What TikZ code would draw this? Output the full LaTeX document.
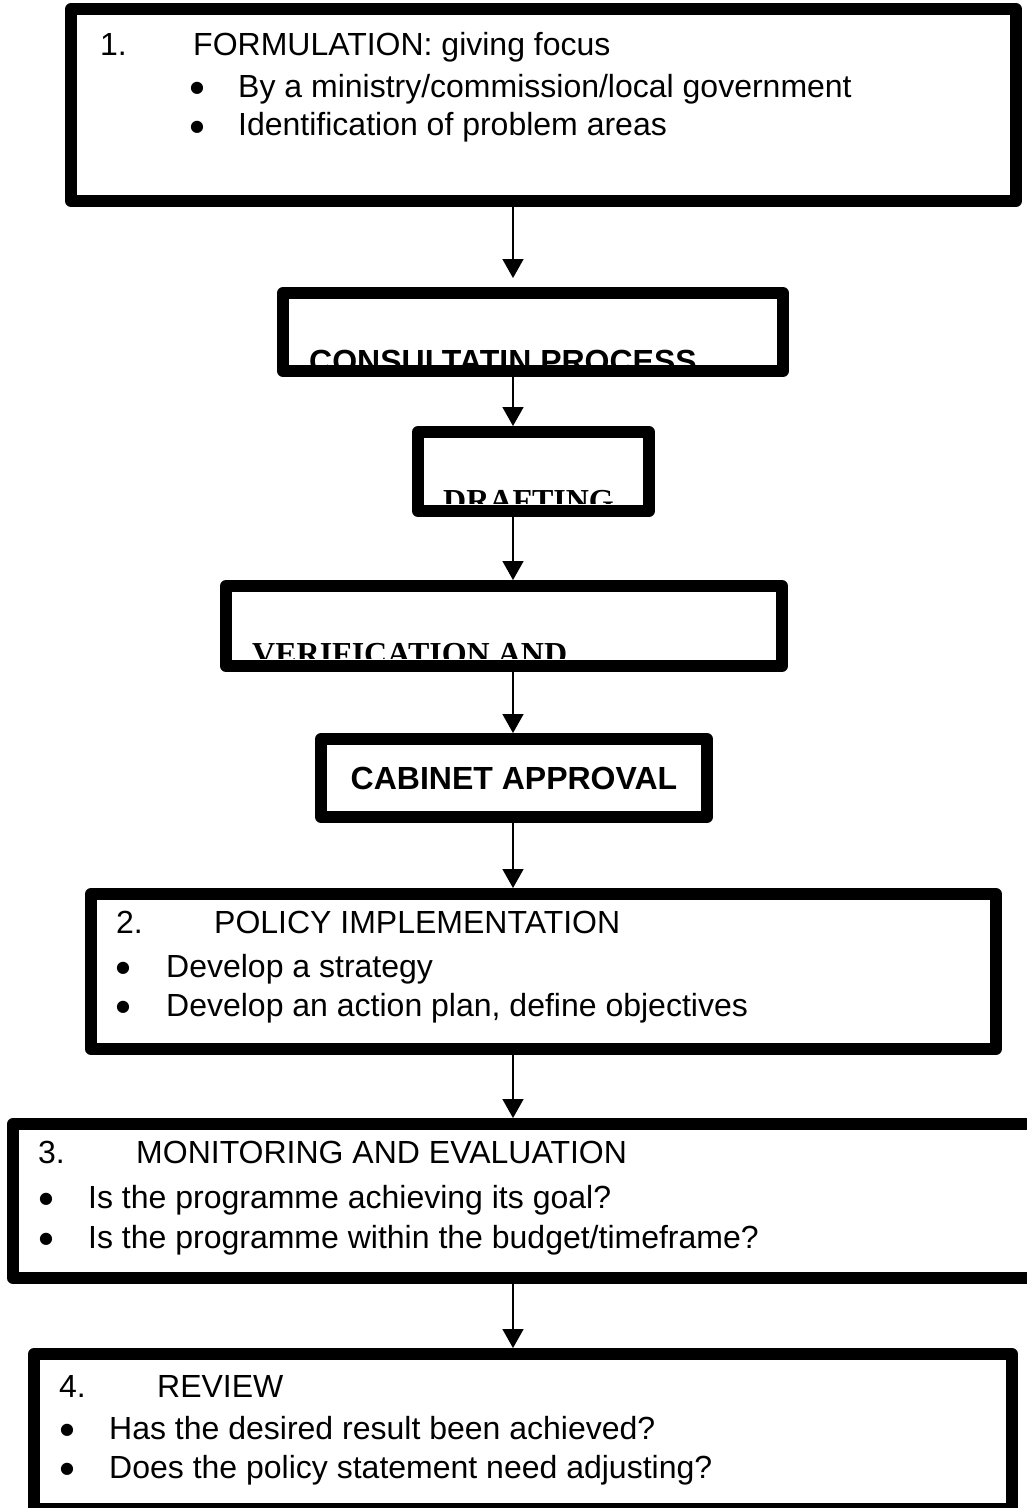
\documentclass[tikz,border=0pt]{standalone}
\usepackage{fontspec}
\setmainfont{Liberation Sans}
\newfontfamily\timesf{Liberation Serif}
\newfontfamily\dejavu{DejaVu Sans}
\usetikzlibrary{arrows.meta}
\begin{document}
\begin{tikzpicture}[x=1pt,y=-1pt,
  box/.style={draw=black, fill=white, line width=12pt, line join=round, rectangle, inner sep=0pt},
  txt/.style={anchor=base west, inner sep=0pt, font=\fontsize{32}{38}\selectfont},
  txtb/.style={anchor=base west, inner sep=0pt, font=\fontsize{32}{38}\selectfont\bfseries},
  txtt/.style={anchor=base west, inner sep=0pt, font=\fontsize{32}{38}\selectfont\timesf\bfseries},
  bul/.style={anchor=base, inner sep=0pt, font=\dejavu\fontsize{16}{19}\selectfont},
  conn/.style={line width=1.6pt, -{Triangle[length=19pt,width=21pt]}}]
\useasboundingbox (0,0) rectangle (1027,1508);
\clip (0,0) rectangle (1027,1508);
\coordinate (ax) at (513,0);

% boxes
\node[box, minimum width=945pt, minimum height=192pt] (b1) at (543.5,105) {};
\node[box, minimum width=500pt, minimum height=78pt] (b2) at (533,332) {};
\node[box, minimum width=231pt, minimum height=79pt] (b3) at (533.5,471.5) {};
\node[box, minimum width=556pt, minimum height=80pt] (b4) at (504,626) {};
\node[box, minimum width=386pt, minimum height=78pt, font=\fontsize{32}{38}\selectfont\bfseries] (b5) at (514,778) {CABINET APPROVAL};
\node[box, minimum width=905pt, minimum height=155pt] (b6) at (543.5,971.5) {};
\node[box, minimum width=1021pt, minimum height=154pt] (b7) at (523.5,1201) {};
\node[box, minimum width=978pt, minimum height=155pt] (b8) at (523,1431.5) {};

% box 1 text
\node[txt] (n1) at (100,55) {1.};
\node[txt] (h1) at (193,55) {FORMULATION: giving focus};
\node[bul] (p1a) at (197,92) {●};
\node[txt] (l1a) at (238,97) {By a ministry/commission/local government};
\node[bul] (p1b) at (197,131) {●};
\node[txt] (l1b) at (238,135) {Identification of problem areas};

% clipped texts
\begin{scope}
\clip (289,299) rectangle (770,365);
\node[txtb] (t2) at (309,372) {CONSULTATIN PROCESS};
\end{scope}
\begin{scope}
\clip (423,437) rectangle (643,503);
\node[txtt] (t3) at (443,511) {DRAFTING};
\end{scope}
\begin{scope}
\clip (231,592) rectangle (777,658);
\node[txtt] (t4) at (252,664) {VERIFICATION AND};
\end{scope}

% box 6 text
\node[txt] (n6) at (116,933) {2.};
\node[txt] (h6) at (214,933) {POLICY IMPLEMENTATION};
\node[bul] (p6a) at (123,972) {●};
\node[txt] (l6a) at (166,977) {Develop a strategy};
\node[bul] (p6b) at (123,1011) {●};
\node[txt] (l6b) at (166,1016) {Develop an action plan, define objectives};

% box 7 text
\node[txt] (n7) at (38,1163) {3.};
\node[txt] (h7) at (136,1163) {MONITORING AND EVALUATION};
\node[bul] (p7a) at (46,1203) {●};
\node[txt] (l7a) at (88,1208) {Is the programme achieving its goal?};
\node[bul] (p7b) at (46,1243) {●};
\node[txt] (l7b) at (88,1248) {Is the programme within the budget/timeframe?};

% box 8 text
\node[txt] (n8) at (59,1397) {4.};
\node[txt] (h8) at (157,1397) {REVIEW};
\node[bul] (p8a) at (67,1434) {●};
\node[txt] (l8a) at (109,1439) {Has the desired result been achieved?};
\node[bul] (p8b) at (67,1473) {●};
\node[txt] (l8b) at (109,1478) {Does the policy statement need adjusting?};

% connectors
\coordinate (a2s) at (513,356);
\draw[conn, shorten >=9pt] (b1.south -| ax) -- (b2.north -| ax);
\draw[conn] (a2s) -- (b3.north -| ax);
\draw[conn] (b3.south -| ax) -- (b4.north -| ax);
\draw[conn] (b4.south -| ax) -- (b5.north -| ax);
\draw[conn] (b5.south -| ax) -- (b6.north -| ax);
\draw[conn] (b6.south -| ax) -- (b7.north -| ax);
\draw[conn] (b7.south -| ax) -- (b8.north -| ax);
\end{tikzpicture}
\end{document}
